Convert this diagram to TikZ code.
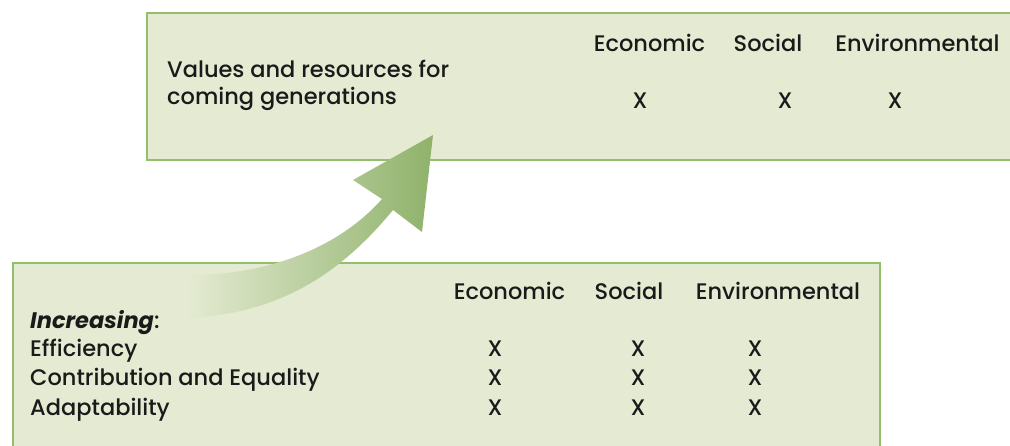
\documentclass[tikz,border=0pt]{standalone}
\usepackage{fontspec}
\setmainfont{Poppins}[UprightFont=* Medium, BoldFont=* SemiBold, BoldItalicFont=* Bold Italic]
\definecolor{panelfill}{HTML}{E5EBD3}
\definecolor{panelrule}{HTML}{92BF6C}
\definecolor{arrowgreen}{HTML}{8FB26B}
\definecolor{inkcolor}{HTML}{1A1A1A}
\begin{document}
\begin{tikzpicture}[x=1pt,y=-1pt,
  panel/.style={fill=panelfill,draw=panelrule,line width=1.6pt},
  txt/.style={inner sep=0pt,anchor=base west,text=inkcolor,font=\fontsize{22.5}{26}\selectfont},
  coltxt/.style={txt,anchor=base},
  cross/.style={coltxt}]
\useasboundingbox (0,0) rectangle (1010,446);

% the two panels
\path[panel] (147,13) rectangle (1016,160);
\path[panel] (13,263) rectangle (880,452);

% curved arrow rising from the lower panel into the upper one
\shade[left color=panelfill, middle color=arrowgreen!85!panelfill, right color=arrowgreen]
  (185,275) .. controls (260,276) and (335,252) .. (382,199)
  -- (353,180) -- (433,135) -- (422,232) -- (393,210)
  .. controls (350,262) and (290,314) .. (187,318) -- cycle;

% upper panel
\node[txt] (vals) at (167,78) {Values and resources for};
\node[txt] (gens) at (167,105) {coming generations};
\node[coltxt] (ecoA) at (649.5,52) {Economic};
\node[coltxt] (socA) at (768,52) {Social};
\node[coltxt] (envA) at (917.5,52) {Environmental};
\node[cross] (xA1) at (640,109) {X};
\node[cross] (xA2) at (785,109) {X};
\node[cross] (xA3) at (895,109) {X};

% lower panel
\node[coltxt] (ecoB) at (509.5,300) {Economic};
\node[coltxt] (socB) at (629,300) {Social};
\node[coltxt] (envB) at (778,300) {Environmental};
\node[txt] (incr) at (30,329) {\textbf{\textit{Increasing}}:};
\node[txt] (effi) at (30,357) {Efficiency};
\node[txt] (cont) at (30,386) {Contribution and Equality};
\node[txt] (adap) at (30,416) {Adaptability};
\foreach \r/\yy in {1/357,2/386,3/416}{
  \node[cross] (xB\r a) at (495,\yy) {X};
  \node[cross] (xB\r b) at (638,\yy) {X};
  \node[cross] (xB\r c) at (755,\yy) {X};
}
\end{tikzpicture}
\end{document}
